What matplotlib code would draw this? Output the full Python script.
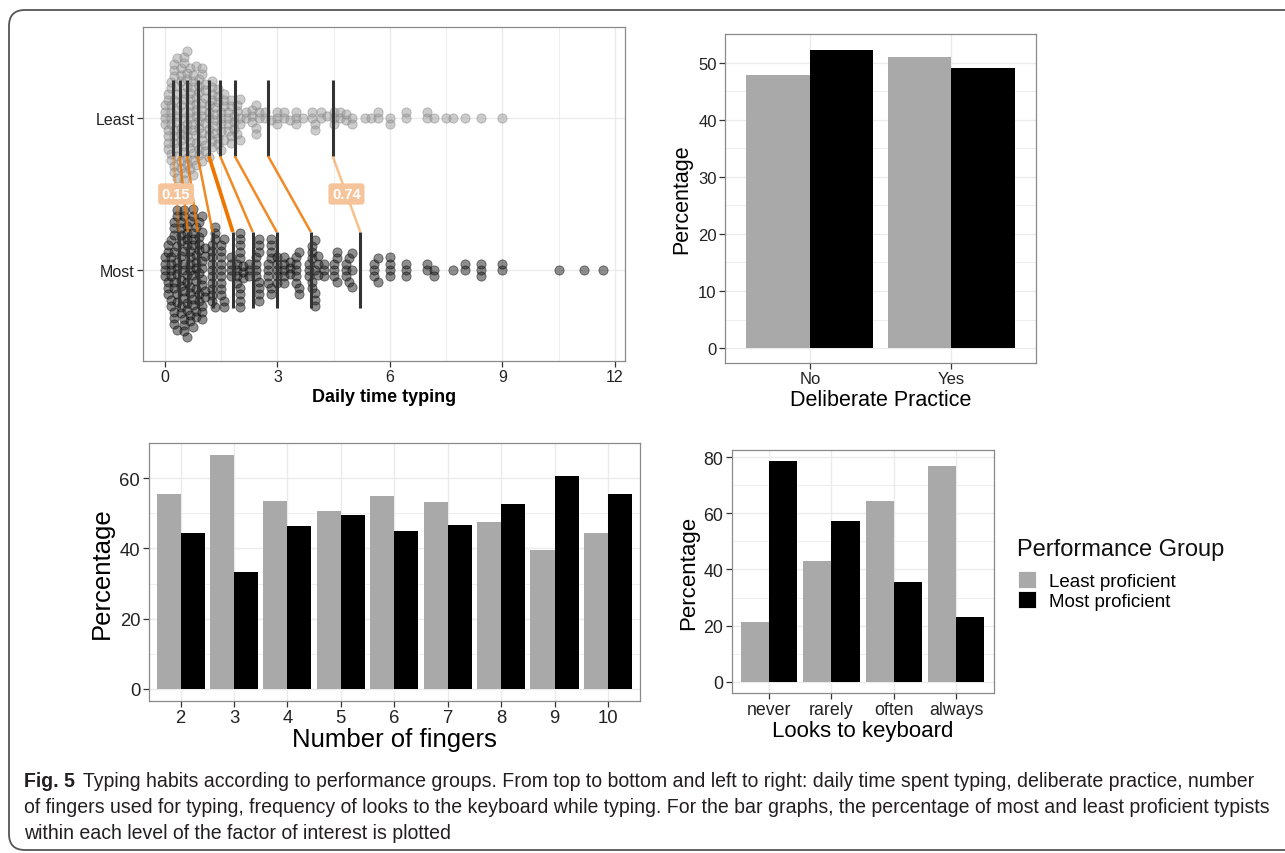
import numpy as np
import matplotlib.pyplot as plt
from matplotlib.patches import Patch, FancyBboxPatch
from matplotlib.transforms import IdentityTransform

plt.rcParams['font.family'] = ['Liberation Sans', 'DejaVu Sans']

# ---- data ----
# daily time typing (hours): distinct values and how many typists gave them
least_hours = [0.0, 0.08, 0.17, 0.25, 0.33, 0.42, 0.5, 0.58, 0.67, 0.75, 0.83, 0.92,
               1.0, 1.08, 1.17, 1.25, 1.33, 1.42, 1.5, 1.58, 1.67, 1.75, 1.83, 1.92,
               2.0, 2.17, 2.33, 2.42, 2.5, 2.67, 2.83, 3.0, 3.17, 3.33, 3.5, 3.67,
               3.92, 4.0, 4.17, 4.33, 4.5, 4.67, 4.83, 5.0, 5.33, 5.5, 5.67, 6.0,
               6.42, 7.0, 7.17, 7.5, 7.67, 8.0, 8.42, 9.0]
least_counts = [4, 6, 8, 9, 9, 9, 10, 9, 9, 8, 8, 7,
                8, 6, 6, 6, 5, 5, 5, 4, 4, 4, 3, 3,
                4, 2, 3, 3, 2, 2, 1, 3, 2, 1, 3, 1,
                2, 2, 2, 1, 3, 2, 2, 2, 1, 1, 2, 2,
                2, 2, 1, 1, 1, 1, 1, 1]
most_hours = [0.0, 0.08, 0.17, 0.25, 0.33, 0.42, 0.5, 0.58, 0.67, 0.75, 0.83, 0.92,
              1.0, 1.08, 1.25, 1.33, 1.5, 1.58, 1.75, 1.92, 2.0, 2.08, 2.25, 2.42,
              2.5, 2.75, 2.83, 3.0, 3.17, 3.33, 3.5, 3.58, 3.83, 3.92, 4.0, 4.08,
              4.25, 4.5, 4.58, 4.83, 4.92, 5.0, 5.58, 5.67, 6.0, 6.42, 7.0, 7.17,
              7.67, 8.0, 8.42, 9.0, 10.5, 11.17, 11.67]
most_counts = [4, 5, 7, 9, 9, 9, 10, 9, 9, 9, 8, 7,
               9, 4, 10, 4, 9, 3, 4, 4, 9, 3, 3, 4,
               7, 4, 6, 5, 5, 3, 5, 3, 3, 5, 5, 3,
               3, 3, 3, 3, 2, 3, 3, 2, 4, 3, 2, 2,
               1, 2, 3, 2, 1, 1, 1]
least_deciles = [0.22, 0.39, 0.59, 0.87, 1.17, 1.47, 1.86, 2.75, 4.47]
most_deciles = [0.37, 0.61, 0.87, 1.27, 1.81, 2.34, 2.98, 3.89, 5.21]

practice_levels = ['No', 'Yes']
practice_least = [47.8, 51.0]
practice_most = [52.2, 49.0]

finger_levels = ['2', '3', '4', '5', '6', '7', '8', '9', '10']
finger_least = [55.5, 66.7, 53.6, 50.6, 54.9, 53.3, 47.4, 39.5, 44.4]
finger_most = [44.5, 33.3, 46.4, 49.4, 45.1, 46.7, 52.6, 60.5, 55.6]

look_levels = ['never', 'rarely', 'often', 'always']
look_least = [21.4, 42.9, 64.4, 76.9]
look_most = [78.6, 57.1, 35.6, 23.1]

GREY = '#a9a9a9'
GRID = '#ebebeb'
BORDER = '#8a8a8a'
ORANGE = '#ee7600'

W, H = 1285, 854


def px_axes(x0, y0, x1, y1):
    # axes from pixel box (top-left origin)
    return fig.add_axes([x0 / W, 1 - y1 / H, (x1 - x0) / W, (y1 - y0) / H])


def style_axes(ax, tick_size):
    for s in ax.spines.values():
        s.set_color(BORDER)
        s.set_linewidth(0.9)
    ax.tick_params(which='major', length=4, width=0.9, color='#333333',
                   labelsize=tick_size, labelcolor='#222222', pad=2)
    ax.tick_params(which='minor', length=0)
    ax.grid(True, which='major', color=GRID, lw=1.0, zorder=0)
    ax.grid(True, which='minor', color=GRID, lw=0.6, zorder=0)
    ax.set_axisbelow(True)


def swarm_offsets(values, xscale, yscale, gap, tol=3.5):
    # beeswarm: smallest free offset, picking the side that keeps the swarm balanced
    x = np.asarray(values, dtype=float) * xscale
    order = np.argsort(x, kind='stable')
    px, py = [], []
    out = np.zeros(len(x))
    for i in order:
        xi = x[i]
        ax_ = np.array(px)
        ay_ = np.array(py)
        if len(ax_):
            near = np.abs(ax_ - xi) < gap
            nx, ny = ax_[near], ay_[near]
            bal = ay_[np.abs(ax_ - xi) < 2 * gap].sum()
        else:
            nx = ny = np.array([])
            bal = 0.0
        cands = [0.0]
        for a, b in zip(nx, ny):
            dy = np.sqrt(gap ** 2 - (a - xi) ** 2)
            cands += [b + dy, b - dy]
        ok = [c for c in cands
              if np.all((nx - xi) ** 2 + (ny - c) ** 2 >= gap ** 2 - 1e-6)]
        best = min(abs(c) for c in ok)
        pool = [c for c in ok if abs(c) <= best + tol]
        if bal > 0:
            side = [c for c in pool if c <= 0]
        else:
            side = [c for c in pool if c >= 0]
        c = min(side or pool, key=abs)
        px.append(xi)
        py.append(c)
        out[i] = c / yscale
    return out


def bar_panel(ax, levels, least, most, ylim, major, minor, tick_size, xlab, lab_size, xpad, ypad):
    x = np.arange(len(levels)) + 1
    ax.bar(x - 0.225, least, width=0.45, color=GREY, zorder=2)
    ax.bar(x + 0.225, most, width=0.45, color='black', zorder=2)
    ax.set_xlim(0.4, len(levels) + 0.6)
    ax.set_ylim(*ylim)
    ax.set_xticks(x)
    ax.set_xticklabels(levels)
    ax.set_yticks(major)
    ax.set_yticks(minor, minor=True)
    style_axes(ax, tick_size)
    ax.set_xlabel(xlab, fontsize=lab_size, labelpad=xpad)
    ax.set_ylabel('Percentage', fontsize=lab_size, labelpad=ypad)


fig = plt.figure(figsize=(W / 100, H / 100), dpi=100)

# ---- top left: daily time typing ----
ax1 = px_axes(143, 28, 625, 362)
xs_least = np.repeat(least_hours, least_counts)
xs_most = np.repeat(most_hours, most_counts)
xscale = 482 / (12.27 + 0.587)
yscale = 334 / 2.2
off_least = swarm_offsets(xs_least, xscale, yscale, 6.3)
off_most = swarm_offsets(xs_most, xscale, yscale, 6.3)
ax1.scatter(xs_least, 2 + off_least, s=44, facecolor='#9a9a9a', edgecolor='#7c7c7c',
            linewidth=0.6, alpha=0.5, zorder=2)
ax1.scatter(xs_most, 1 + off_most, s=44, facecolor='#1e1e1e', edgecolor='black',
            linewidth=0.6, alpha=0.5, zorder=2)
ax1.vlines(least_deciles, 1.75, 2.25, color='#333333', lw=2.2, zorder=3)
ax1.vlines(most_deciles, 0.75, 1.25, color='#333333', lw=2.2, zorder=3)
for i, (a, b) in enumerate(zip(least_deciles, most_deciles)):
    if i in (0, len(least_deciles) - 1):
        alpha, lw = 0.45, 1.8
    elif i == 4:
        alpha, lw = 1.0, 2.7
    else:
        alpha, lw = 0.85, 1.8
    ax1.plot([a, b], [1.75, 1.25], color=ORANGE, alpha=alpha, lw=lw, zorder=4,
             solid_capstyle='butt')
for i in (0, len(least_deciles) - 1):
    diff = most_deciles[i] - least_deciles[i]
    ax1.text((least_deciles[i] + most_deciles[i]) / 2, 1.5, f'{diff:.2f}',
             ha='center', va='center', color='white', fontsize=10.5, weight='bold',
             zorder=5, bbox=dict(boxstyle='round,pad=0.25,rounding_size=0.2',
                                 fc='#f6c49b', ec='none'))
ax1.set_xlim(-0.587, 12.27)
ax1.set_ylim(0.40, 2.60)
ax1.set_xticks([0, 3, 6, 9, 12])
ax1.set_xticks([1.5, 4.5, 7.5, 10.5], minor=True)
ax1.set_yticks([1, 2])
ax1.set_yticklabels(['Most', 'Least'])
style_axes(ax1, 11.5)
ax1.set_xlabel('Daily time typing', fontsize=13, weight='bold', labelpad=3)

# ---- top right: deliberate practice ----
ax2 = px_axes(725, 35, 1036, 364)
bar_panel(ax2, practice_levels, practice_least, practice_most, (-2.61, 54.81),
          range(0, 51, 10), range(5, 56, 10), 12, 'Deliberate Practice', 15.5, 2, 4)

# ---- bottom left: number of fingers ----
ax3 = px_axes(148.5, 444, 640, 701.7)
bar_panel(ax3, finger_levels, finger_least, finger_most, (-3.33, 70.0),
          range(0, 61, 20), range(10, 71, 20), 13.3, 'Number of fingers', 18.5, 1, 4)

# ---- bottom right: looks to keyboard ----
ax4 = px_axes(731.5, 451, 993.8, 694)
bar_panel(ax4, look_levels, look_least, look_most, (-3.93, 82.5),
          range(0, 81, 20), range(10, 81, 20), 12.8, 'Looks to keyboard', 16, 1, 3)

# legend
fig.text(1017 / W, 1 - 550 / H, 'Performance Group', fontsize=17, va='center',
         color='#111111')
handles = [Patch(facecolor=GREY, edgecolor='white', lw=0.6),
           Patch(facecolor='black', edgecolor='white', lw=0.6)]
fig.legend(handles, ['Least proficient', 'Most proficient'],
           loc='upper left', bbox_to_anchor=(1018 / W, 1 - 572 / H), frameon=False,
           fontsize=13.5, handlelength=0.98, handleheight=1.0,
           labelspacing=0.05, handletextpad=0.65, borderpad=0, borderaxespad=0)

# ---- outer frame and caption ----
frame = FancyBboxPatch((9, 3), 1300, 840, boxstyle='round,pad=0,rounding_size=16',
                       transform=IdentityTransform(), fc='none', ec='#555555', lw=1.3)
fig.patches.append(frame)

cap_font = ['Liberation Sans', 'DejaVu Sans']
lines = ['Typing habits according to performance groups. From top to bottom and left to right: '
         'daily time spent typing, deliberate practice, number',
         'of fingers used for typing, frequency of looks to the keyboard while typing. For the bar '
         'graphs, the percentage of most and least proficient typists',
         'within each level of the factor of interest is plotted']
ys = [782, 808, 834]
x0, x_end = 24, 1257
fs = 12
fig.canvas.draw()
r = fig.canvas.get_renderer()
tb = fig.text(x0 / W, 1 - ys[0] / H, 'Fig. 5', fontsize=fs, weight='bold', family=cap_font,
              va='center', color='#231f20')
t1 = fig.text(0, 1 - ys[0] / H, lines[0], fontsize=fs, family=cap_font, va='center',
              color='#231f20')
wb = tb.get_window_extent(r).width
w1 = t1.get_window_extent(r).width
gap = 0.6 * fs
fs = fs * (x_end - x0) / (wb + gap + w1)
tb.set_fontsize(fs)
t1.set_fontsize(fs)
wb = tb.get_window_extent(r).width
t1.set_x((x0 + wb + 0.6 * fs) / W)
for txt, y in zip(lines[1:], ys[1:]):
    fig.text(x0 / W, 1 - y / H, txt, fontsize=fs, family=cap_font, va='center', color='#231f20')

fig.savefig('out.png', dpi=100)
